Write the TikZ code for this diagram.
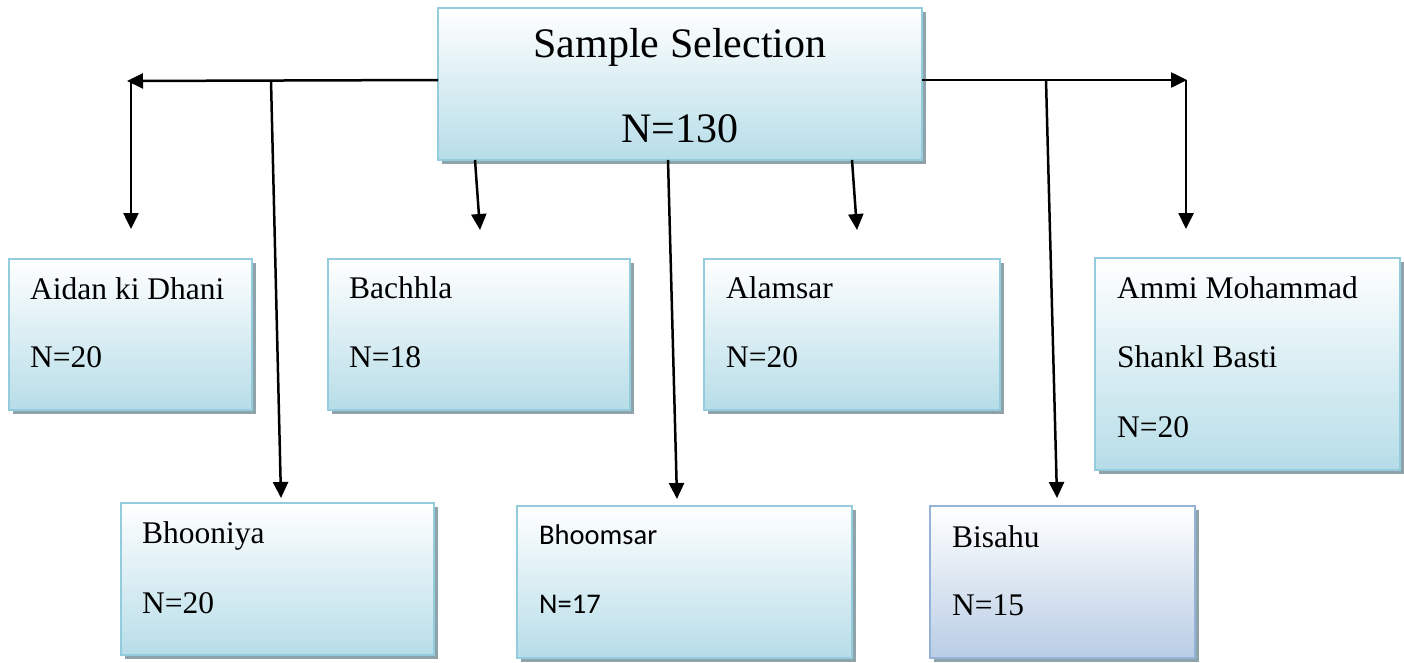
\documentclass[tikz,border=0pt]{standalone}
\usepackage{fontspec}
\setmainfont{Liberation Serif}
\newfontfamily\calfont{Carlito}
\usetikzlibrary{arrows.meta,shadows}
\definecolor{bord}{HTML}{93CDDD}
\definecolor{fillb}{HTML}{B7DDE8}
\definecolor{bordv}{HTML}{95B3D7}
\definecolor{fillv}{HTML}{B9CDE5}
\definecolor{shad}{HTML}{8FA3AB}
\tikzset{
  box/.style={draw=bord, line width=2.5pt, top color=white, bottom color=fillb,
    drop shadow={shadow xshift=4pt, shadow yshift=-4pt, fill=shad, opacity=1},
    anchor=north west, inner sep=0pt, outer sep=0pt},
  boxv/.style={box, draw=bordv, bottom color=fillv},
  txt/.style={font=\fontsize{31.5}{36}\selectfont, inner sep=0pt, anchor=base west},
  ctxt/.style={font=\calfont\fontsize{28.5}{34}\selectfont, inner sep=0pt, anchor=base west},
  bigtxt/.style={font=\fontsize{42}{48}\selectfont, inner sep=0pt, anchor=base},
  conn/.style={line width=2.5pt, draw=black},
  arr/.style={conn, -{Triangle[length=16pt,width=15pt]}}
}
\begin{document}
\begin{tikzpicture}[x=1pt,y=-1pt]
\useasboundingbox (0,0) rectangle (1404,662);
% boxes
\node[box, minimum width=484pt, minimum height=152pt] (top) at (438,8) {};
\node[box, minimum width=243pt, minimum height=151pt] (aidan) at (9,259) {};
\node[box, minimum width=302pt, minimum height=151pt] (bach) at (328,259) {};
\node[box, minimum width=296pt, minimum height=151pt] (alam) at (704,259) {};
\node[box, minimum width=305pt, minimum height=212pt] (ammi) at (1095,258) {};
\node[box, minimum width=313pt, minimum height=152pt] (bhoon) at (121,503) {};
\node[box, minimum width=335pt, minimum height=152pt] (bhoom) at (517,506) {};
\node[boxv, minimum width=265pt, minimum height=152pt] (bisa) at (930,506) {};
% texts
\node[bigtxt] (top1) at (680,57) {Sample Selection};
\node[bigtxt] (top2) at (680,142) {N=130};
\node[txt] (aidan1) at (30,299) {Aidan ki Dhani};
\node[txt] (aidan2) at (30,367) {N=20};
\node[txt] (bach1) at (349,298) {Bachhla};
\node[txt] (bach2) at (349,367) {N=18};
\node[txt] (alam1) at (726,298) {Alamsar};
\node[txt] (alam2) at (726,367) {N=20};
\node[txt] (ammi1) at (1117,298) {Ammi Mohammad};
\node[txt] (ammi2) at (1117,367) {Shankl Basti};
\node[txt] (ammi3) at (1117,437) {N=20};
\node[txt] (bhoon1) at (142,543) {Bhooniya};
\node[txt] (bhoon2) at (142,613) {N=20};
\node[ctxt] (bhoom1) at (539,544) {Bhoomsar};
\node[ctxt] (bhoom2) at (539,613) {N=17};
\node[txt] (bisa1) at (952,547) {Bisahu};
\node[txt] (bisa2) at (952,615) {N=15};
% connector coordinates
\coordinate (lc) at (127,81);
\coordinate (lv) at (131,80);
\coordinate (la) at (131,229);
\coordinate (lb) at (271,80.5);
\coordinate (lbe) at (281,498);
\coordinate (s1) at (475,160);
\coordinate (s1e) at (480,230);
\coordinate (s2) at (668,160);
\coordinate (s2e) at (677,499);
\coordinate (s3) at (852,160);
\coordinate (s3e) at (857,230);
\coordinate (rc) at (1187,80);
\coordinate (rv) at (1186,80);
\coordinate (ra) at (1186,229);
\coordinate (rb) at (1046,80);
\coordinate (rbe) at (1057,498);
% connectors
\draw[arr] ([yshift=4pt]top.west) -- (lc);
\draw[arr] (lv) -- (la);
\draw[arr] (lb) -- (lbe);
\draw[arr] (s1) -- (s1e);
\draw[arr] (s2) -- (s2e);
\draw[arr] (s3) -- (s3e);
\draw[arr] ([yshift=4pt]top.east) -- (rc);
\draw[arr] (rv) -- (ra);
\draw[arr] (rb) -- (rbe);
\end{tikzpicture}
\end{document}
